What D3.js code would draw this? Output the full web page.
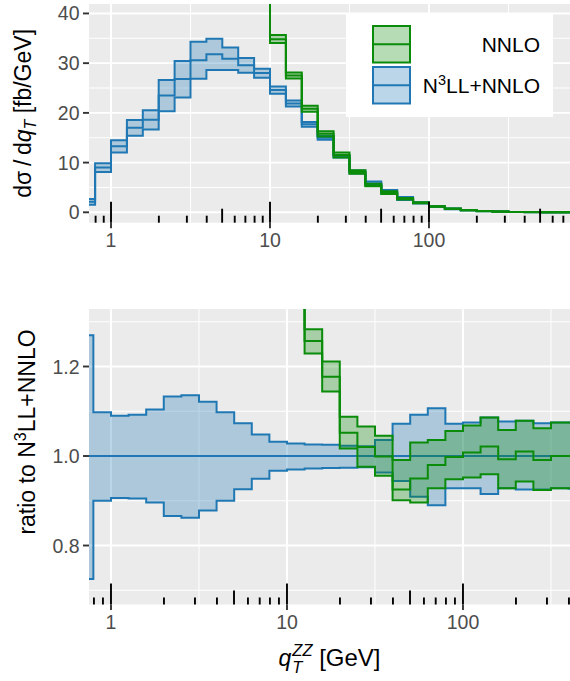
<!DOCTYPE html>
<html>
<head>
<meta charset="utf-8">
<script src="https://cdn.jsdelivr.net/npm/d3@7"></script>
<style>
  html, body { margin: 0; padding: 0; background: #ffffff; }
  svg { display: block; font-family: "Liberation Sans", Arial, Helvetica, sans-serif; }
</style>
</head>
<body>
<svg id="chart" width="570" height="681"></svg>
<script>
// q_T bin edges (GeV), ten logarithmic bins per decade
const binEdges = [0.631, 0.794, 1, 1.259, 1.585, 1.995, 2.512, 3.162, 3.981, 5.012, 6.310, 7.943,
  10, 12.59, 15.85, 19.95, 25.12, 31.62, 39.81, 50.12, 63.10, 79.43,
  100, 125.9, 158.5, 199.5, 251.2, 316.2, 398.1, 501.2, 631.0, 794.3];

// N3LL+NNLO central prediction, dsigma/dqT in fb/GeV (one value per bin)
const n3llCentral = [2.1, 9.0, 13.3, 17.0, 18.6, 23.5, 26.8, 30.6, 31.8, 30.9, 29.6, 28.0,
  24.6, 21.9, 17.7, 15.0, 11.3, 8.1, 5.8, 4.1, 2.8, 1.9,
  1.15, 0.70, 0.42, 0.24, 0.14, 0.075, 0.04, 0.02, 0.01];

// N3LL+NNLO scale band relative to its central value
const n3llRatioLow = [0.725, 0.900, 0.906, 0.905, 0.896, 0.866, 0.862, 0.878, 0.900, 0.926, 0.949, 0.967,
  0.970, 0.972, 0.973, 0.974, 0.975, 0.963, 0.944, 0.909, 0.890, 0.928,
  0.928, 0.915, 0.928, 0.925, 0.925, 0.928, 0.927, 0.927, 0.927];
const n3llRatioHigh = [1.270, 1.098, 1.090, 1.092, 1.104, 1.133, 1.136, 1.121, 1.098, 1.073, 1.048, 1.032,
  1.028, 1.026, 1.025, 1.023, 1.022, 1.036, 1.072, 1.092, 1.107, 1.072,
  1.075, 1.086, 1.077, 1.079, 1.073, 1.075, 1.075, 1.075, 1.075];

// NNLO central and scale band, as a ratio to the N3LL+NNLO central value
// (fixed order is not shown in the lowest bins)
const nnloRatio = [null, null, null, null, null, null, null, null, null, 2.20, 1.85, 1.62,
  1.415, 1.257, 1.177, 1.052, 1.020, 0.999, 0.925, 0.950, 0.980, 0.998,
  1.008, 1.021, 0.993, 1.010, 0.991, 1.000, 1.000, 1.000, 1.000];
const nnloRatioLow = [null, null, null, null, null, null, null, null, null, 2.15, 1.81, 1.59,
  1.385, 1.229, 1.144, 1.017, 0.976, 0.956, 0.901, 0.896, 0.928, 0.948,
  0.952, 0.959, 0.928, 0.943, 0.924, 0.928, 0.928, 0.928, 0.928];
const nnloRatioHigh = [null, null, null, null, null, null, null, null, null, 2.25, 1.89, 1.65,
  1.450, 1.283, 1.211, 1.088, 1.066, 1.045, 0.991, 1.030, 1.036, 1.056,
  1.068, 1.086, 1.058, 1.079, 1.062, 1.075, 1.075, 1.075, 1.075];

const seriesNames = ["NNLO", "N3LL+NNLO"];
const spectrumTicks = [0, 10, 20, 30, 40];
const ratioTicks = [0.8, 1.0, 1.2];
const qtTicks = [1, 10, 100];

// ---------------------------------------------------------------
const svg = d3.select("#chart");
const colBlue = "#1F78B4";
const colGreen = "#0A8C0A";
const fillOpacity = 0.3;
const panelBg = "#EBEBEB";
const labelGrey = "#4D4D4D";
const tickGrey = "#333333";

const left = 89, right = 570;

const xTop = d3.scaleLog().domain([0.727, 771]).range([left, right]);
const yTop = d3.scaleLinear().domain([-2.09, 41.9]).range([222.7, 4]);
const xBot = d3.scaleLog().domain([0.75, 405.6]).range([left, right]);
const yBot = d3.scaleLinear().domain([0.6682, 1.3285]).range([604.5, 309]);

const nBins = n3llCentral.length;

// Build step rows for one series; rows start at each bin's lower edge,
// plus a closing row at the upper edge of the last bin.
function stepRows(lo, c, hi) {
  const rows = [];
  for (let i = 0; i < nBins; i++) {
    if (c[i] == null) continue;
    rows.push({ x: binEdges[i], lo: lo[i], c: c[i], hi: hi[i] });
  }
  const last = rows[rows.length - 1];
  rows.push({ x: binEdges[nBins], lo: last.lo, c: last.c, hi: last.hi });
  return rows;
}

const idx = d3.range(nBins);
const n3llAbs = {
  lo: idx.map(i => n3llCentral[i] * n3llRatioLow[i]),
  c: n3llCentral,
  hi: idx.map(i => n3llCentral[i] * n3llRatioHigh[i])
};
const nnloAbs = {
  lo: idx.map(i => nnloRatioLow[i] == null ? null : n3llCentral[i] * nnloRatioLow[i]),
  c: idx.map(i => nnloRatio[i] == null ? null : n3llCentral[i] * nnloRatio[i]),
  hi: idx.map(i => nnloRatioHigh[i] == null ? null : n3llCentral[i] * nnloRatioHigh[i])
};
const n3llRel = {
  lo: n3llRatioLow,
  c: idx.map(i => n3llCentral[i] / n3llCentral[i]),
  hi: n3llRatioHigh
};
const nnloRel = { lo: nnloRatioLow, c: nnloRatio, hi: nnloRatioHigh };

function drawPanel(id, x, y, yTicks, yMinor, yFormat, seriesList, minorX) {
  const [x0, x1] = x.range();
  const [yb, yt] = y.range();
  const g = svg.append("g");

  g.append("rect").attr("x", x0).attr("y", yt).attr("width", x1 - x0).attr("height", yb - yt)
    .attr("fill", panelBg);

  // grid
  yMinor.forEach(v => g.append("line").attr("x1", x0).attr("x2", x1)
    .attr("y1", y(v)).attr("y2", y(v)).attr("stroke", "#fff").attr("stroke-width", 1));
  minorX.forEach(v => g.append("line").attr("y1", yt).attr("y2", yb)
    .attr("x1", x(v)).attr("x2", x(v)).attr("stroke", "#fff").attr("stroke-width", 1));
  yTicks.forEach(v => g.append("line").attr("x1", x0).attr("x2", x1)
    .attr("y1", y(v)).attr("y2", y(v)).attr("stroke", "#fff").attr("stroke-width", 1.9));
  qtTicks.forEach(v => g.append("line").attr("y1", yt).attr("y2", yb)
    .attr("x1", x(v)).attr("x2", x(v)).attr("stroke", "#fff").attr("stroke-width", 1.9));

  // data, clipped to the panel
  const clipId = "clip-" + id;
  svg.append("clipPath").attr("id", clipId).append("rect")
    .attr("x", x0).attr("y", yt).attr("width", x1 - x0).attr("height", yb - yt);
  const data = g.append("g").attr("clip-path", `url(#${clipId})`);

  seriesList.forEach(s => {
    const rows = stepRows(s.vals.lo, s.vals.c, s.vals.hi);
    const area = d3.area().curve(d3.curveStepAfter)
      .x(d => x(d.x)).y0(d => y(d.lo)).y1(d => y(d.hi));
    data.append("path").attr("d", area(rows))
      .attr("fill", s.color).attr("fill-opacity", fillOpacity).attr("stroke", "none");
    ["hi", "lo", "c"].forEach(k => {
      const line = d3.line().curve(d3.curveStepAfter).x(d => x(d.x)).y(d => y(d[k]));
      data.append("path").attr("d", line(rows)).attr("fill", "none")
        .attr("stroke", s.color).attr("stroke-width", 2).attr("stroke-linejoin", "miter");
    });
  });

  // logarithmic rug ticks along the bottom of the panel
  const logTicks = [];
  for (let e = -1; e <= 3; e++) {
    for (let k = 1; k <= 9; k++) {
      const v = k * Math.pow(10, e);
      if (x(v) >= x0 && x(v) <= x1) logTicks.push({ v, len: k === 1 ? 21 : (k === 5 ? 14 : 7) });
    }
  }
  logTicks.forEach(t => g.append("line").attr("x1", x(t.v)).attr("x2", x(t.v))
    .attr("y1", yb).attr("y2", yb - t.len).attr("stroke", "#000").attr("stroke-width", 1.9));

  // axes: ticks and labels
  yTicks.forEach(v => {
    g.append("line").attr("x1", x0 - 6).attr("x2", x0).attr("y1", y(v)).attr("y2", y(v))
      .attr("stroke", tickGrey).attr("stroke-width", 1.9);
    g.append("text").attr("x", x0 - 9.5).attr("y", y(v)).attr("dy", "0.36em")
      .attr("text-anchor", "end").attr("font-size", 19.5).attr("fill", labelGrey).text(yFormat(v));
  });
  qtTicks.forEach(v => {
    g.append("line").attr("x1", x(v)).attr("x2", x(v)).attr("y1", yb).attr("y2", yb + 5.5)
      .attr("stroke", tickGrey).attr("stroke-width", 1.9);
    g.append("text").attr("x", x(v)).attr("y", yb + 24)
      .attr("text-anchor", "middle").attr("font-size", 19.5).attr("fill", labelGrey).text(d3.format("d")(v));
  });
  return g;
}

const seriesTop = [
  { color: colBlue, vals: n3llAbs },
  { color: colGreen, vals: nnloAbs }
];
const seriesBot = [
  { color: colBlue, vals: n3llRel },
  { color: colGreen, vals: nnloRel }
];

drawPanel("top", xTop, yTop, spectrumTicks, [5, 15, 25, 35], d3.format("d"), seriesTop, [Math.sqrt(10), Math.sqrt(1000), Math.sqrt(100000)]);
drawPanel("bot", xBot, yBot, ratioTicks, [0.7, 0.9, 1.1, 1.3], d3.format(".1f"), seriesBot, [Math.sqrt(10), Math.sqrt(1000), Math.sqrt(100000)]);

// axis titles
const titleSize = 23;
const yTitleTop = svg.append("text")
  .attr("transform", `translate(31,${(yTop.range()[0] + yTop.range()[1]) / 2}) rotate(-90)`)
  .attr("text-anchor", "middle").attr("font-size", titleSize).attr("fill", "#000");
yTitleTop.append("tspan").text("d\u03C3\u2009/\u2009d");
yTitleTop.append("tspan").attr("font-style", "italic").text("q");
yTitleTop.append("tspan").attr("font-style", "italic").attr("font-size", 16).attr("dy", 5).text("T");
yTitleTop.append("tspan").attr("dy", -5).text(" [fb/GeV]");

const yTitleBot = svg.append("text")
  .attr("transform", `translate(34.5,432) rotate(-90)`)
  .attr("text-anchor", "middle").attr("font-size", titleSize).attr("fill", "#000");
yTitleBot.append("tspan").text("ratio to N");
yTitleBot.append("tspan").attr("font-size", 16).attr("dy", -9).text("3");
yTitleBot.append("tspan").attr("dy", 9).text("LL+NNLO");

// x title: q with stacked sub/superscript
const xTitle = svg.append("g");
const tq = xTitle.append("text").attr("font-size", titleSize).attr("font-style", "italic").text("q");
const wq = tq.node().getComputedTextLength();
const tsup = xTitle.append("text").attr("x", wq + 1).attr("y", -10).attr("font-size", 16.5)
  .attr("font-style", "italic").text("ZZ");
const tsub = xTitle.append("text").attr("x", wq + 1).attr("y", 7).attr("font-size", 16.5)
  .attr("font-style", "italic").text("T");
const ws = Math.max(tsup.node().getComputedTextLength(), tsub.node().getComputedTextLength());
const tg = xTitle.append("text").attr("x", wq + 1 + ws).attr("font-size", titleSize + 1).text("\u00A0[GeV]");
const total = wq + 1 + ws + tg.node().getComputedTextLength();
xTitle.attr("transform", `translate(${(left + right) / 2 - total / 2},666)`);

// legend
const legend = svg.append("g");
legend.append("rect").attr("x", 346).attr("y", 13).attr("width", 207).attr("height", 104).attr("fill", "#fff");
const legendItems = [
  { name: seriesNames[0], color: colGreen, y: 26 },
  { name: seriesNames[1], color: colBlue, y: 67 }
];
legendItems.forEach(it => {
  legend.append("rect").attr("x", 373).attr("y", it.y).attr("width", 37).attr("height", 36.5)
    .attr("fill", it.color).attr("fill-opacity", fillOpacity)
    .attr("stroke", it.color).attr("stroke-width", 2);
  legend.append("line").attr("x1", 373).attr("x2", 410).attr("y1", it.y + 18.25).attr("y2", it.y + 18.25)
    .attr("stroke", it.color).attr("stroke-width", 2);
  const t = legend.append("text").attr("x", 540).attr("y", it.y + 18.25).attr("dy", "0.36em")
    .attr("text-anchor", "end").attr("font-size", 21).attr("fill", "#000");
  const m = it.name.match(/^N(\d)(.*)$/);
  if (m) {
    t.append("tspan").text("N");
    t.append("tspan").attr("font-size", 14.5).attr("dy", -8).text(m[1]);
    t.append("tspan").attr("dy", 8).text(m[2]);
  } else {
    t.text(it.name);
  }
});
</script>
</body>
</html>
